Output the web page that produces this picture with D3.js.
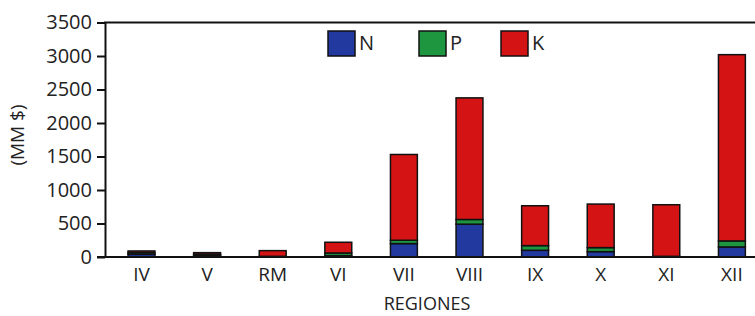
<!DOCTYPE html>
<html>
<head>
<meta charset="utf-8">
<script src="https://cdn.jsdelivr.net/npm/d3@7"></script>
<style>
  body { margin: 0; background: #fff; }
  svg text { font-family: "Open Sans", "Noto Sans", sans-serif; fill: #222; }
</style>
</head>
<body>
<svg id="chart" width="755" height="316"></svg>
<script>
// regions along the x axis
const regions = ["IV", "V", "RM", "VI", "VII", "VIII", "IX", "X", "XI", "XII"];
// stacked nutrient values (MM $), bottom to top: N, P, K
const valN = [40, 25, 5, 20, 200, 490, 100, 80, 5, 150];
const valP = [25, 15, 5, 40, 50, 70, 70, 60, 5, 90];
const valK = [25, 25, 85, 160, 1280, 1815, 595, 650, 770, 2780];
const yTicks = [0, 500, 1000, 1500, 2000, 2500, 3000, 3500];
const series = ["N", "P", "K"];
const colors = { N: "#22399f", P: "#1e9640", K: "#d41414" };

const rows = regions.map((r, i) => ({ region: r, N: valN[i], P: valP[i], K: valK[i] }));

const svg = d3.select("#chart");
const mLeft = 105, mTop = 22.5, mBottom = 257, mRight = 755;

const x = d3.scaleBand()
  .domain(regions)
  .range([108.7, 764.7])
  .paddingInner(0.59)
  .paddingOuter(0.295);

const y = d3.scaleLinear().domain([0, 3500]).range([mBottom, mTop]);

const stacked = d3.stack().keys(series)(rows);

// bars
svg.append("g")
  .selectAll("g")
  .data(stacked)
  .enter()
  .append("g")
  .attr("fill", d => colors[d.key])
  .selectAll("rect")
  .data(d => d)
  .enter()
  .append("rect")
  .attr("x", d => x(d.data.region))
  .attr("y", d => y(d[1]))
  .attr("width", x.bandwidth())
  .attr("height", d => y(d[0]) - y(d[1]))
  .attr("stroke", "#111")
  .attr("stroke-width", 1.5);

// y axis
const yAxis = svg.append("g")
  .attr("transform", "translate(" + mLeft + ",0)")
  .call(d3.axisLeft(y).tickValues(yTicks).tickFormat(d3.format("d")).tickSize(8).tickPadding(5).tickSizeOuter(0));
yAxis.select(".domain").attr("stroke", "#111").attr("stroke-width", 2);
yAxis.selectAll(".tick line").attr("stroke", "#111").attr("stroke-width", 2);
yAxis.selectAll(".tick text").attr("font-size", 20).style("font-family", "'Open Sans', sans-serif").attr("fill", "#222");

// x axis
const xAxis = svg.append("g")
  .attr("transform", "translate(0," + mBottom + ")")
  .call(d3.axisBottom(x).tickSize(0).tickPadding(11));
xAxis.select(".domain").attr("d", "M" + (mLeft - 8) + ",0H" + mRight).attr("stroke", "#111").attr("stroke-width", 2);
xAxis.selectAll(".tick text").attr("font-size", 19).style("font-family", "'Open Sans', sans-serif").attr("fill", "#222");

// top frame line
svg.append("line")
  .attr("x1", mLeft - 1).attr("x2", mRight)
  .attr("y1", mTop).attr("y2", mTop)
  .attr("stroke", "#111").attr("stroke-width", 2);

// axis titles
svg.append("text")
  .attr("transform", "translate(24,135) rotate(-90)")
  .attr("text-anchor", "middle")
  .attr("font-size", 19)
  .text("(MM $)");

svg.append("text")
  .attr("x", 427)
  .attr("y", 310)
  .attr("text-anchor", "middle")
  .attr("font-size", 18)
  .text("REGIONES");

// legend
const legendX = [328, 419, 501];
const legend = svg.append("g")
  .selectAll("g")
  .data(series)
  .enter()
  .append("g")
  .attr("transform", (d, i) => "translate(" + legendX[i] + ",31)");
legend.append("rect")
  .attr("width", 27).attr("height", 25)
  .attr("fill", d => colors[d])
  .attr("stroke", "#111").attr("stroke-width", 1.5);
legend.append("text")
  .attr("x", 31).attr("y", 19)
  .attr("font-size", 20)
  .text(d => d);
</script>
</body>
</html>
